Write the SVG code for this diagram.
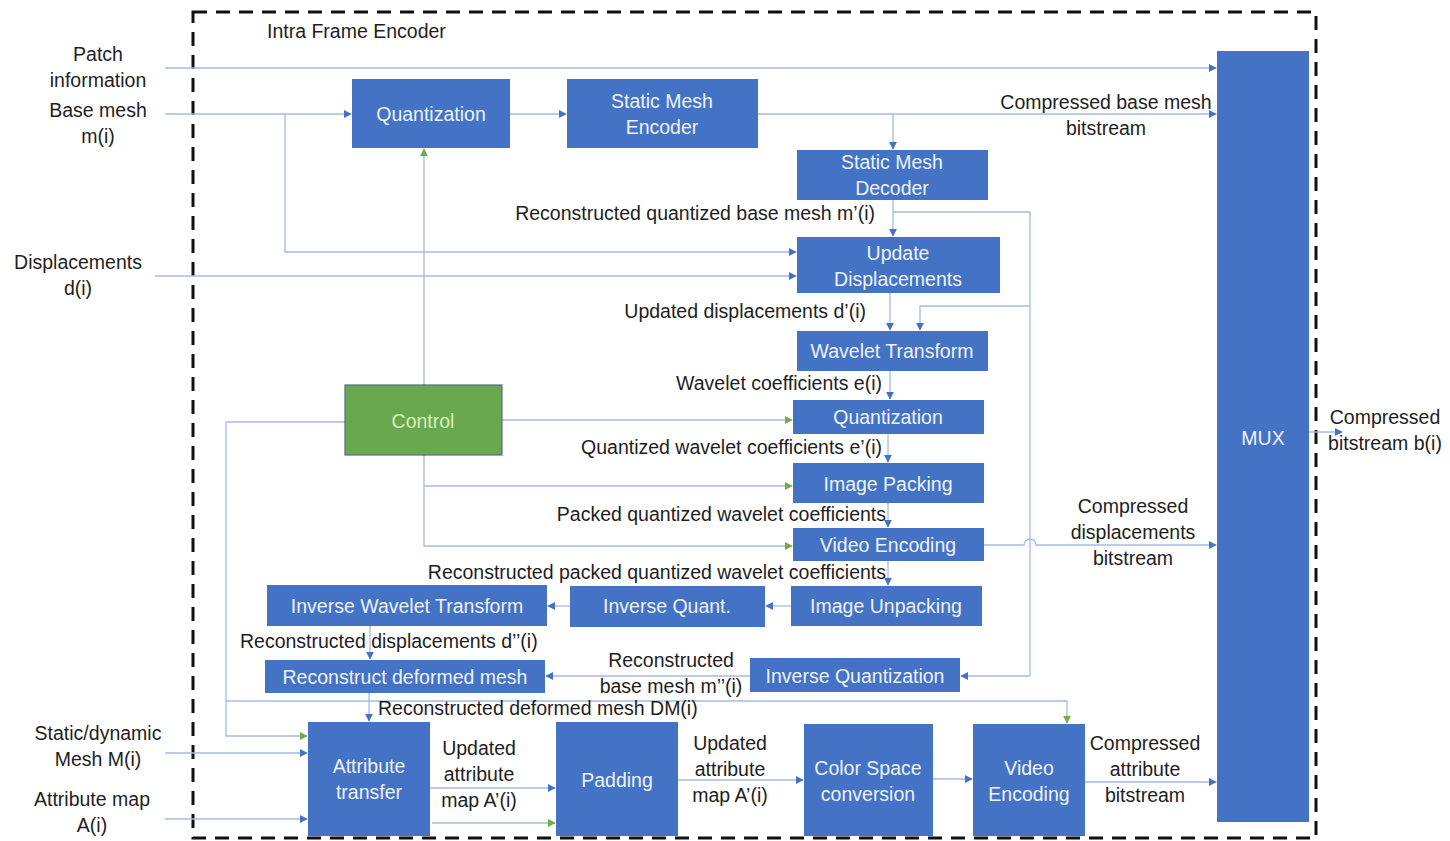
<svg xmlns="http://www.w3.org/2000/svg" width="1450" height="841" viewBox="0 0 1450 841">
<defs>
<marker id="ab" viewBox="0 0 10 10" refX="9" refY="5" markerWidth="6" markerHeight="6" orient="auto"><path d="M0,0 L10,5 L0,10 z" fill="#4472C4"/></marker>
<marker id="ag" viewBox="0 0 10 10" refX="9" refY="5" markerWidth="6" markerHeight="6" orient="auto"><path d="M0,0 L10,5 L0,10 z" fill="#70AD47"/></marker>
<style>
.box{fill:#4472C4;}
.bt{font-family:"Liberation Sans",Arial,sans-serif;font-size:19.5px;fill:#eef3fc;text-anchor:middle;}
.lb{font-family:"Liberation Sans",Arial,sans-serif;font-size:19.5px;fill:#1e1e1e;}
.c{fill:none;stroke:#A6BAE2;stroke-width:1.3;}
.cb{marker-end:url(#ab);}
.cg{marker-end:url(#ag);}
.m{text-anchor:middle;}
.e{text-anchor:end;}
</style>
</defs>
<rect width="1450" height="841" fill="#ffffff"/>
<rect x="193" y="12" width="1123" height="826" fill="none" stroke="#111" stroke-width="3" stroke-dasharray="14,9"/>
<text class="lb" x="267" y="38">Intra Frame Encoder</text>

<g id="connectors">
<path class="c cb" d="M165,68 H1216"/>
<path class="c cb" d="M165,114 H351"/>
<path class="c cb" d="M285,114 V252 H796"/>
<path class="c cb" d="M155,276 H796"/>
<path class="c cb" d="M510,114 H566"/>
<path class="c cb" d="M758,114 H1216"/>
<path class="c cb" d="M893,114 V149"/>
<path class="c cb" d="M893,200 V236"/>
<path class="c" d="M893,212 H1030 V676"/>
<path class="c cb" d="M1030,676 H961"/>
<path class="c cb" d="M1030,306 H920 V330"/>
<path class="c cb" d="M890,293 V330"/>
<path class="c cb" d="M890,371 V399"/>
<path class="c cb" d="M888,434 V462"/>
<path class="c cb" d="M888,503 V527"/>
<path class="c cb" d="M984,545 H1024 A6,6 0 0 1 1036,545 H1216"/>
<path class="c cb" d="M888,561 V585"/>
<path class="c cb" d="M791,606 H766"/>
<path class="c cb" d="M570,606 H548"/>
<path class="c cb" d="M370,626 V659"/>
<path class="c cb" d="M750,676 H546"/>
<path class="c cb" d="M369,693 V721"/>
<path class="c cg" d="M424,385 V149"/>
<path class="c cg" d="M502,420 H792"/>
<path class="c cg" d="M424,455 V486 H792"/>
<path class="c cg" d="M424,486 V546 H792"/>
<path class="c cg" d="M345,422 H226 V736 H307"/>
<path class="c cg" d="M226,701 H1067 V723"/>
<path class="c cb" d="M165,753 H307"/>
<path class="c cb" d="M165,819 H307"/>
<path class="c cb" d="M430,788 H555"/>
<path class="c cg" d="M432,823 H555"/>
<path class="c cb" d="M678,780 H803"/>
<path class="c cb" d="M933,779 H972"/>
<path class="c cb" d="M1085,782 H1216"/>
<path class="c cb" d="M1309,432 H1342"/>
</g>

<g id="quant1"><rect class="box" x="352" y="79" width="158" height="69"/><text class="bt" x="431" y="121">Quantization</text></g>
<g id="smenc"><rect class="box" x="567" y="79" width="191" height="69"/><text class="bt" x="662" y="108">Static Mesh</text><text class="bt" x="662" y="134">Encoder</text></g>
<g id="smdec"><rect class="box" x="797" y="150" width="191" height="50"/><text class="bt" x="892" y="169">Static Mesh</text><text class="bt" x="892" y="195">Decoder</text></g>
<g id="upd"><rect class="box" x="797" y="237" width="203" height="56"/><text class="bt" x="898" y="260">Update</text><text class="bt" x="898" y="286">Displacements</text></g>
<g id="wav"><rect class="box" x="797" y="331" width="191" height="40"/><text class="bt" x="892" y="358">Wavelet Transform</text></g>
<g id="quant2"><rect class="box" x="793" y="400" width="191" height="34"/><text class="bt" x="888" y="424">Quantization</text></g>
<g id="pack"><rect class="box" x="793" y="463" width="191" height="40"/><text class="bt" x="888" y="491">Image Packing</text></g>
<g id="venc1"><rect class="box" x="793" y="528" width="191" height="33"/><text class="bt" x="888" y="552">Video Encoding</text></g>
<g id="unpack"><rect class="box" x="791" y="586" width="191" height="40"/><text class="bt" x="886" y="613">Image Unpacking</text></g>
<g id="iquant"><rect class="box" x="570" y="586" width="195" height="41"/><text class="bt" x="667" y="613">Inverse Quant.</text></g>
<g id="iwav"><rect class="box" x="267" y="585" width="280" height="41"/><text class="bt" x="407" y="613">Inverse Wavelet Transform</text></g>
<g id="recdef"><rect class="box" x="265" y="660" width="280" height="33"/><text class="bt" x="405" y="684">Reconstruct deformed mesh</text></g>
<g id="iquantz"><rect class="box" x="750" y="658" width="210" height="34"/><text class="bt" x="855" y="683">Inverse Quantization</text></g>
<g id="attr"><rect class="box" x="308" y="722" width="122" height="114"/><text class="bt" x="369" y="773">Attribute</text><text class="bt" x="369" y="799">transfer</text></g>
<g id="pad"><rect class="box" x="556" y="722" width="122" height="114"/><text class="bt" x="617" y="787">Padding</text></g>
<g id="csc"><rect class="box" x="804" y="724" width="129" height="112"/><text class="bt" x="868" y="775">Color Space</text><text class="bt" x="868" y="801">conversion</text></g>
<g id="venc2"><rect class="box" x="973" y="724" width="112" height="112"/><text class="bt" x="1029" y="775">Video</text><text class="bt" x="1029" y="801">Encoding</text></g>
<g id="mux"><rect class="box" x="1217" y="51" width="92" height="771"/><text class="bt" x="1263" y="445">MUX</text></g>
<g id="control"><rect x="345" y="385" width="157" height="70" fill="#6AA84F" stroke="#4f6f8f" stroke-width="1.2"/><text class="bt" x="423" y="428" style="fill:#d4f0b8">Control</text></g>

<g id="labels">
<text class="lb m" x="98" y="61">Patch</text>
<text class="lb m" x="98" y="87">information</text>
<text class="lb m" x="98" y="117">Base mesh</text>
<text class="lb m" x="98" y="143">m(i)</text>
<text class="lb m" x="78" y="269">Displacements</text>
<text class="lb m" x="78" y="295">d(i)</text>
<text class="lb m" x="98" y="740">Static/dynamic</text>
<text class="lb m" x="98" y="766">Mesh M(i)</text>
<text class="lb m" x="92" y="806">Attribute map</text>
<text class="lb m" x="92" y="832">A(i)</text>
<text class="lb m" x="1106" y="109">Compressed base mesh</text>
<text class="lb m" x="1106" y="135">bitstream</text>
<text class="lb e" x="875" y="220">Reconstructed quantized base mesh m’(i)</text>
<text class="lb e" x="866" y="318">Updated displacements d’(i)</text>
<text class="lb e" x="882" y="390">Wavelet coefficients e(i)</text>
<text class="lb e" x="882" y="454">Quantized wavelet coefficients e’(i)</text>
<text class="lb e" x="886" y="521">Packed quantized wavelet coefficients</text>
<text class="lb e" x="886" y="579">Reconstructed packed quantized wavelet coefficients</text>
<text class="lb" x="240" y="648">Reconstructed displacements d’’(i)</text>
<text class="lb m" x="671" y="667">Reconstructed</text>
<text class="lb m" x="671" y="693">base mesh m’’(i)</text>
<text class="lb" x="378" y="715">Reconstructed deformed mesh DM(i)</text>
<text class="lb m" x="1133" y="513">Compressed</text>
<text class="lb m" x="1133" y="539">displacements</text>
<text class="lb m" x="1133" y="565">bitstream</text>
<text class="lb m" x="1385" y="424">Compressed</text>
<text class="lb m" x="1385" y="450">bitstream b(i)</text>
<text class="lb m" x="479" y="755">Updated</text>
<text class="lb m" x="479" y="781">attribute</text>
<text class="lb m" x="479" y="807">map A’(i)</text>
<text class="lb m" x="730" y="750">Updated</text>
<text class="lb m" x="730" y="776">attribute</text>
<text class="lb m" x="730" y="802">map A’(i)</text>
<text class="lb m" x="1145" y="750">Compressed</text>
<text class="lb m" x="1145" y="776">attribute</text>
<text class="lb m" x="1145" y="802">bitstream</text>
</g>
</svg>
